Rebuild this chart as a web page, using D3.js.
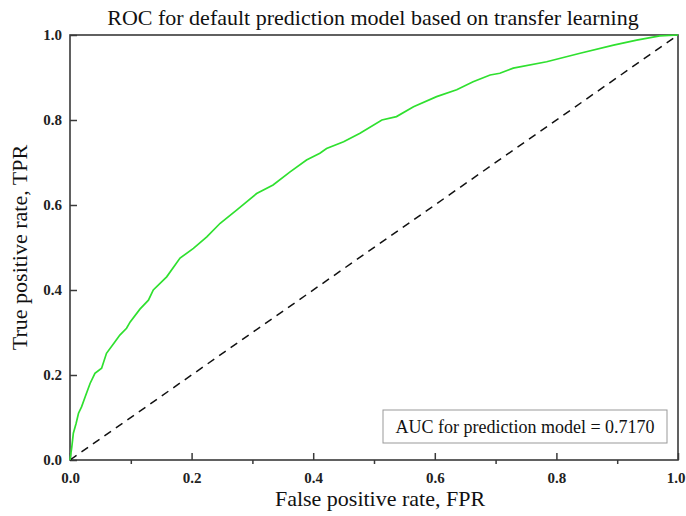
<!DOCTYPE html>
<html>
<head>
<meta charset="utf-8">
<script src="https://cdn.jsdelivr.net/npm/d3@7"></script>
<style>
  html, body { margin: 0; padding: 0; background: #fff; }
  svg { display: block; }
</style>
</head>
<body>
<svg id="chart" width="686" height="516"></svg>
<script>
const fpr = [0, 0.003, 0.0055, 0.01, 0.014, 0.019, 0.025, 0.033, 0.041, 0.052, 0.060, 0.074, 0.082, 0.093, 0.099, 0.115, 0.129, 0.137, 0.159, 0.181, 0.203, 0.225, 0.247, 0.274, 0.307, 0.334, 0.362, 0.389, 0.411, 0.422, 0.45, 0.477, 0.513, 0.537, 0.565, 0.603, 0.636, 0.663, 0.691, 0.707, 0.729, 0.784, 0.839, 0.894, 0.932, 0.97, 1.0];
const tpr = [0, 0.031, 0.063, 0.086, 0.11, 0.125, 0.149, 0.18, 0.204, 0.216, 0.251, 0.278, 0.294, 0.31, 0.325, 0.355, 0.376, 0.40, 0.431, 0.475, 0.498, 0.525, 0.557, 0.588, 0.627, 0.647, 0.678, 0.706, 0.722, 0.733, 0.749, 0.769, 0.80, 0.808, 0.831, 0.855, 0.871, 0.89, 0.906, 0.91, 0.922, 0.937, 0.957, 0.976, 0.988, 0.998, 1.0];
const diagonal = [0, 1];
const majorTicks = [0, 0.2, 0.4, 0.6, 0.8, 1.0];
const minorTicks = [0.1, 0.3, 0.5, 0.7, 0.9];
const titleText = "ROC for default prediction model based on transfer learning";
const xLabel = "False positive rate, FPR";
const yLabel = "True positive rate, TPR";
const legendText = "AUC for prediction model = 0.7170";

const svg = d3.select("#chart");
const m = { left: 70, right: 678, top: 35, bottom: 460 };
const x = d3.scaleLinear().domain([0, 1]).range([m.left, m.right]);
const y = d3.scaleLinear().domain([0, 1]).range([m.bottom, m.top]);
const serif = "'Liberation Serif', 'Times New Roman', serif";
const axisColor = "#3a3a3a";

// X axis (major inward, minor outward)
const gx = svg.append("g").attr("transform", `translate(0,${m.bottom})`)
  .call(d3.axisBottom(x).tickValues(majorTicks).tickSize(-7).tickPadding(12).tickFormat(d3.format(".1f")));
gx.select(".domain").remove();
gx.selectAll("line").attr("stroke", axisColor).attr("stroke-width", 1.5);
gx.selectAll("text").attr("font-family", serif).attr("font-size", 15).attr("font-weight", "bold").attr("fill", "#222");
// keep the last label inside the page
gx.selectAll(".tick").filter(d => d === 1).select("text").attr("text-anchor", "end").attr("dx", 7);
const gxm = svg.append("g").attr("transform", `translate(0,${m.bottom})`)
  .call(d3.axisBottom(x).tickValues(minorTicks).tickSize(4).tickFormat(""));
gxm.select(".domain").remove();
gxm.selectAll("line").attr("stroke", axisColor).attr("stroke-width", 1.5);

// Y axis
const gy = svg.append("g").attr("transform", `translate(${m.left},0)`)
  .call(d3.axisLeft(y).tickValues(majorTicks).tickSize(-7).tickPadding(8).tickFormat(d3.format(".1f")));
gy.select(".domain").remove();
gy.selectAll("line").attr("stroke", axisColor).attr("stroke-width", 1.5);
gy.selectAll("text").attr("font-family", serif).attr("font-size", 15).attr("font-weight", "bold").attr("fill", "#222");

// Frame
svg.append("rect")
  .attr("x", m.left).attr("y", m.top)
  .attr("width", m.right - m.left).attr("height", m.bottom - m.top)
  .attr("fill", "none").attr("stroke", axisColor).attr("stroke-width", 1.6);

// Diagonal
svg.append("line")
  .attr("x1", x(diagonal[0])).attr("y1", y(diagonal[0]))
  .attr("x2", x(diagonal[1])).attr("y2", y(diagonal[1]))
  .attr("stroke", "#111").attr("stroke-width", 1.5).attr("stroke-dasharray", "8,6");

// ROC curve
const pts = fpr.map((f, i) => [f, tpr[i]]);
svg.append("path")
  .datum(pts)
  .attr("fill", "none")
  .attr("stroke", "#2fe02f")
  .attr("stroke-width", 1.7)
  .attr("d", d3.line().x(d => x(d[0])).y(d => y(d[1])));

// Legend box
svg.append("rect")
  .attr("x", 383).attr("y", 410).attr("width", 284).attr("height", 33)
  .attr("fill", "#fff").attr("stroke", "#999").attr("stroke-width", 1);
svg.append("text")
  .attr("x", 525).attr("y", 433).attr("text-anchor", "middle")
  .attr("font-family", serif).attr("font-size", 18).attr("fill", "#111")
  .text(legendText);

// Title
svg.append("text")
  .attr("x", 373).attr("y", 25).attr("text-anchor", "middle")
  .attr("font-family", serif).attr("font-size", 22).attr("fill", "#111")
  .text(titleText);

// Axis labels
svg.append("text")
  .attr("x", 380).attr("y", 506).attr("text-anchor", "middle")
  .attr("font-family", serif).attr("font-size", 22).attr("fill", "#111")
  .text(xLabel);
svg.append("text")
  .attr("transform", `translate(27,${(m.top + m.bottom) / 2}) rotate(-90)`)
  .attr("text-anchor", "middle")
  .attr("font-family", serif).attr("font-size", 22).attr("fill", "#111")
  .text(yLabel);
</script>
</body>
</html>
